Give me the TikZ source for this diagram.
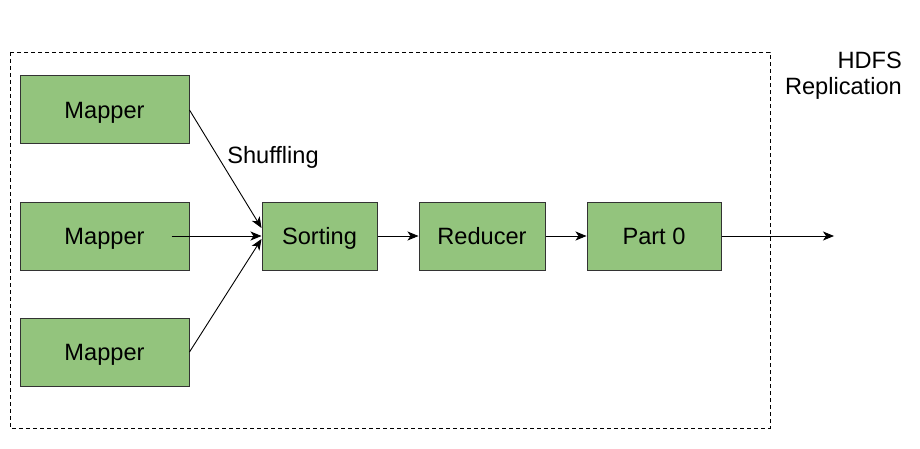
\documentclass[tikz,border=0pt]{standalone}
\usepackage{fontspec}
\setmainfont{Liberation Sans}
\usetikzlibrary{arrows.meta}
\definecolor{boxgreen}{HTML}{93C47D}
\definecolor{boxline}{HTML}{333333}

\begin{document}
\begin{tikzpicture}[x=1pt, y=-1pt,
    every node/.style={font=\fontsize{23.6}{26}\selectfont},
    stage/.style={draw=boxline, fill=boxgreen, line width=1pt, minimum height=68pt, inner sep=0pt,
                  text height=16.9pt, text depth=0pt},
    flow/.style={-{Stealth[length=11pt,width=9pt,inset=3pt]}, line width=0.9pt}]

                \useasboundingbox (0,0) rectangle (920,449);
                \draw [dash pattern=on 4pt off 3pt, line width=0.8pt] (10,52) rectangle (770,428);
                \node [stage, minimum width=169pt] (m1) at (104.5,110) {Mapper};
                \node [stage, minimum width=169pt] (m2) at (104.5,236) {Mapper};
                \node [stage, minimum width=169pt] (m3) at (104.5,352) {Mapper};
                \node [stage, minimum width=115pt] (sort) at (319.5,236) {Sorting};
                \node [stage, minimum width=126pt] (red) at (482,236) {Reducer};
                \node [stage, minimum width=134pt] (part) at (654,236) {Part 0};
                \coordinate (out) at (834,236);
                \node (shuf) at (273,157) {Shuffling};
                \node [align=right, anchor=east, inner sep=0pt] (hdfs) at (902,76) {HDFS\\Replication};
                \draw [flow] (m1.east) -- ([yshift=8pt]sort.west);
                \draw [flow] ([xshift=-18pt]m2.east) -- (sort.west);
                \draw [flow] (m3.east) -- ([yshift=-3pt]sort.west);
                \draw [flow] (sort) -- (red);
                \draw [flow] (red) -- (part);
                \draw [flow] (part) -- (out);
            \end{tikzpicture}
\end{document}
